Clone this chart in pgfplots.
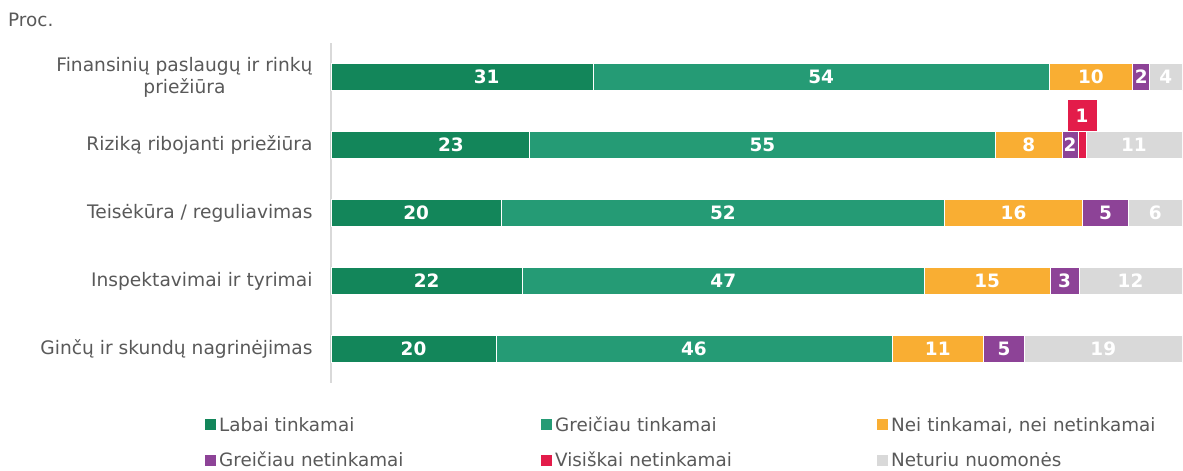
\documentclass[border=0pt]{standalone}
\usepackage{fontspec}
\setmainfont{DejaVu Sans}
\usepackage{pgfplots}
\usepackage{pgfplotstable}
\pgfplotsset{compat=1.18}
\definecolor{cA}{HTML}{13865A}
\definecolor{cB}{HTML}{259B75}
\definecolor{cC}{HTML}{F9AE33}
\definecolor{cD}{HTML}{8D4397}
\definecolor{cE}{HTML}{E31C4A}
\definecolor{cF}{HTML}{D9D9D9}
\definecolor{axgray}{HTML}{D9D9D9}
\definecolor{lblgray}{HTML}{595959}

\pgfplotstableread{
y labai greic nei gnet visk neturiu
0 30.8 53.6 9.8 2.0 0 3.8
1 23.3 54.8 7.8 1.9 0.9 11.3
2 20.0 52.1 16.2 5.4 0 6.3
3 22.5 47.2 14.8 3.4 0 12.1
4 19.4 46.5 10.8 4.8 0 18.5
}\data

\pgfplotstableread{
x y lab
18.3 0 31
57.6 0 54
89.3 0 10
95.2 0 2
98.1 0 4
14.1 1 23
50.7 1 55
82.0 1 8
86.85 1 2
94.35 1 11
10.0 2 20
46.05 2 52
80.2 2 16
91.0 2 5
96.85 2 6
11.25 3 22
46.1 3 47
77.1 3 15
86.2 3 3
93.95 3 12
9.7 4 20
42.65 4 46
71.3 4 11
79.1 4 5
90.75 4 19
}\labels

\pgfplotstableread{
x y lab
88.25 1 1
}\callout

\pgfplotsset{
  mybar/.style={fill=#1, draw=white, line width=0.6bp,
    legend image code/.code={\fill[fill=#1, draw=none] (0bp,-3.5bp) rectangle (11bp,7.5bp);}},
}

\begin{document}
\begin{tikzpicture}
\useasboundingbox (-331bp,-88bp) rectangle (852bp,383bp);
\node[anchor=west, text=lblgray, font=\fontsize{18.5}{22}\selectfont, inner sep=0pt] at (-323bp,363bp) {Proc.};
\begin{axis}[
  name=main,
  at={(0,0)}, anchor=south west,
  scale only axis, width=851bp, height=340bp,
  xbar stacked, bar width=27bp, bar shift=0pt,
  xmin=0, xmax=100, ymin=-0.5, ymax=4.5, y dir=reverse,
  axis x line=none, axis y line*=left,
  y axis line style={draw=axgray, line width=1.5bp},
  ytick={0,1,2,3,4},
  yticklabels={{Finansinių paslaugų ir rinkų\\priežiūra},{Riziką ribojanti priežiūra},{Teisėkūra / reguliavimas},{Inspektavimai ir tyrimai},{Ginčų ir skundų nagrinėjimas}},
  major tick length=0pt,
  yticklabel style={align=center, text=lblgray, font=\fontsize{18.7}{22}\selectfont, xshift=-15bp},
  legend columns=3,
  legend cell align=left,
  legend style={draw=none, fill=none, at={(-0.14806,-0.097)}, anchor=north west,
    inner xsep=0pt, inner ysep=0pt, row sep=14.5bp,
    nodes={text width=319bp, inner xsep=3bp, inner ysep=2bp, text height=13bp, text depth=4bp,
      align=left, text=lblgray, font=\fontsize{18.4}{22}\selectfont}},
]
\addplot[mybar=cA] table[x=labai,y=y]{\data};
\addlegendentry{Labai tinkamai}
\addplot[mybar=cB] table[x=greic,y=y]{\data};
\addlegendentry{Greičiau tinkamai}
\addplot[mybar=cC] table[x=nei,y=y]{\data};
\addlegendentry{Nei tinkamai, nei netinkamai}
\addplot[mybar=cD] table[x=gnet,y=y]{\data};
\addlegendentry{Greičiau netinkamai}
\addplot[mybar=cE] table[x=visk,y=y]{\data};
\addlegendentry{Visiškai netinkamai}
\addplot[mybar=cF] table[x=neturiu,y=y]{\data};
\addlegendentry{Neturiu nuomonės}
\end{axis}
\begin{axis}[
  at={(0,0)}, anchor=south west,
  scale only axis, width=851bp, height=340bp,
  xmin=0, xmax=100, ymin=-0.5, ymax=4.5, y dir=reverse,
  hide axis, clip=false,
]
\addplot[only marks, mark=none, point meta=explicit symbolic,
  nodes near coords,
  nodes near coords style={anchor=center, text=white, font=\fontsize{18.5}{22}\selectfont\bfseries, inner sep=0pt}]
  table[x=x,y=y,meta=lab]{\labels};
\addplot[only marks, mark=none, point meta=explicit symbolic,
  nodes near coords,
  nodes near coords style={anchor=south, yshift=13.5bp, fill=cE, text=white, minimum width=29bp, minimum height=31bp, inner sep=0pt, font=\fontsize{18.5}{22}\selectfont\bfseries}]
  table[x=x,y=y,meta=lab]{\callout};
\end{axis}
\end{tikzpicture}
\end{document}
